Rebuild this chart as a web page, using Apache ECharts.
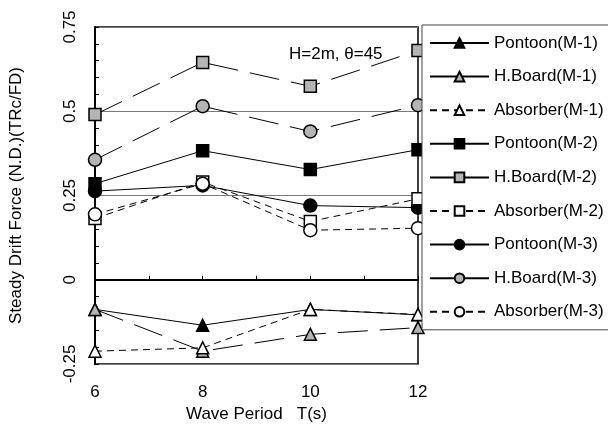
<!DOCTYPE html>
<html>
<head>
<meta charset="utf-8">
<script src="https://cdn.jsdelivr.net/npm/echarts@6/dist/echarts.min.js"></script>
<style>html,body{margin:0;padding:0;background:#fff}#c{width:608px;height:428px}</style>
</head>
<body>
<div id="c"></div>
<script>
var periods = [6, 8, 10, 12];
var pontoonM1  = [-0.088, -0.135, -0.088, -0.104];
var hboardM1   = [-0.088, -0.212, -0.162, -0.142];
var absorberM1 = [-0.212, -0.202, -0.088, -0.103];
var pontoonM2  = [0.285, 0.383, 0.327, 0.386];
var hboardM2   = [0.490, 0.645, 0.574, 0.680];
var absorberM2 = [0.182, 0.290, 0.173, 0.240];
var pontoonM3  = [0.263, 0.280, 0.220, 0.214];
var hboardM3   = [0.356, 0.515, 0.440, 0.518];
var absorberM3 = [0.194, 0.285, 0.147, 0.153];
var seriesNames = ['Pontoon(M-1)','H.Board(M-1)','Absorber(M-1)','Pontoon(M-2)','H.Board(M-2)','Absorber(M-2)','Pontoon(M-3)','H.Board(M-3)','Absorber(M-3)'];
var yTickLabels = ['-0.25','0','0.25','0.5','0.75'];
var xTickLabels = ['6','8','10','12'];

var FONT = 'Liberation Sans, Arial, sans-serif';
var GRAY = '#b4b4b4';
var seriesValues = [pontoonM1,hboardM1,absorberM1,pontoonM2,hboardM2,absorberM2,pontoonM3,hboardM3,absorberM3];
var symbols = ['triangle','triangle','triangle','rect','rect','rect','circle','circle','circle'];
var fills = ['#000', GRAY, '#fff'];
var dashes = ['solid', [30, 12], [7, 5]];
var sizes = {triangle: 12, rect: 12, circle: 13};

function pairs(v){ return periods.map(function(p,i){ return [p, v[i]]; }); }

var series = seriesValues.map(function(v, i){
  var k = i % 3;
  return {
    name: seriesNames[i],
    type: 'line',
    data: pairs(v),
    symbol: symbols[i],
    symbolSize: sizes[symbols[i]],
    showAllSymbol: true,
    clip: false,
    z: 3 + (k === 2 ? 2 : k === 0 ? 0 : 1),
    lineStyle: {color: '#000', width: 1, type: dashes[k]},
    itemStyle: {color: fills[k], borderColor: '#000', borderWidth: 1.5},
    emphasis: {disabled: true}
  };
});

var legendData = seriesNames.map(function(n, i){
  var item = {name: n};
  if (i % 3 === 1) item.lineStyle = {type: 'solid'};
  return item;
});

var chart = echarts.init(document.getElementById('c'), null, {renderer: 'canvas'});
chart.setOption({
  animation: false,
  backgroundColor: '#fff',
  grid: {left: 87, right: 190, top: 27, bottom: 62, show: true, borderColor: '#000', borderWidth: 1.5, backgroundColor: 'transparent'},
  xAxis: {
    type: 'value', min: 6, max: 12, interval: 2,
    name: 'Wave Period   T(s)', nameLocation: 'middle', nameGap: 42,
    nameTextStyle: {fontFamily: FONT, fontSize: 17, color: '#000'},
    axisLine: {show: true, lineStyle: {color: '#000', width: 2}},
    axisTick: {show: true, inside: true, length: 4, lineStyle: {color: '#000'}},
    minorTick: {show: true, splitNumber: 2, length: 4, lineStyle: {color: '#000'}},
    splitLine: {show: false},
    axisLabel: {fontFamily: FONT, fontSize: 17, color: '#000', margin: 20,
      formatter: function(v){ var i = periods.indexOf(v); return i >= 0 ? xTickLabels[i] : ''; }}
  },
  yAxis: {
    type: 'value', min: -0.25, max: 0.75, interval: 0.25,
    name: 'Steady Drift Force (N.D.)(TRc/FD)', nameLocation: 'middle', nameGap: 70, nameRotate: 90,
    nameTextStyle: {fontFamily: FONT, fontSize: 17, color: '#000'},
    axisLine: {show: true, lineStyle: {color: '#000', width: 2}},
    axisTick: {show: true, inside: true, length: 4, lineStyle: {color: '#000'}},
    minorTick: {show: true, splitNumber: 5, length: 4, lineStyle: {color: '#000'}},
    splitLine: {show: true, lineStyle: {color: '#7a7a7a', width: 1}},
    axisLabel: {fontFamily: FONT, fontSize: 17, color: '#000', rotate: 90, margin: 16,
      formatter: function(v){ var i = Math.round((v + 0.25) / 0.25); return yTickLabels[i] !== undefined ? yTickLabels[i] : ''; }}
  },
  legend: {
    orient: 'vertical', left: 422, top: 25, z: 20,
    padding: [8, 8, 8, 7],
    itemWidth: 59, itemHeight: 12, itemGap: 13.6,
    backgroundColor: '#fff', borderColor: '#444', borderWidth: 1,
    textStyle: {fontFamily: FONT, fontSize: 17, color: '#000', lineHeight: 20},
    data: legendData,
    selectedMode: false
  },
  graphic: [{
    type: 'text', left: 289, top: 46,
    style: {text: 'H=2m, \u03b8=45', fontFamily: FONT, fontSize: 17, fill: '#000', align: 'center', verticalAlign: 'middle'},
    x: 0, y: 0
  }],
  series: series
});
</script>
</body>
</html>
